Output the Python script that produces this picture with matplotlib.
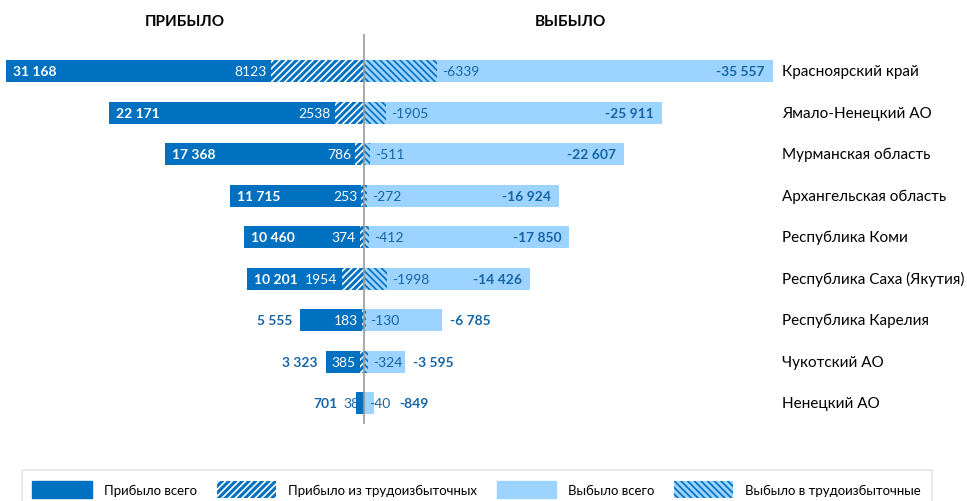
import matplotlib.pyplot as plt
from matplotlib.patches import Patch

plt.rcParams['font.family'] = ['Lato', 'DejaVu Sans']
plt.rcParams['hatch.linewidth'] = 1.2

regions = ['Красноярский край', 'Ямало-Ненецкий АО', 'Мурманская область',
           'Архангельская область', 'Республика Коми', 'Республика Саха (Якутия)',
           'Республика Карелия', 'Чукотский АО', 'Ненецкий АО']
arrived_total = [31168, 22171, 17368, 11715, 10460, 10201, 5555, 3323, 701]
arrived_surplus = [8123, 2538, 786, 253, 374, 1954, 183, 385, 38]
left_total = [35557, 25911, 22607, 16924, 17850, 14426, 6785, 3595, 849]
left_surplus = [6339, 1905, 511, 272, 412, 1998, 130, 324, 40]

dark = '#0070C0'
light = '#9DD3FF'
txt_blue = '#1565A8'
fs = 10


def fmt(v):
    return f'{v:,}'.replace(',', ' ')


def tw(s):
    # rough text width in pixels
    return 7.3 * len(s)


fig = plt.figure(figsize=(9.67, 5.02), dpi=100)
ax_w = 776
ax = fig.add_axes([0.0, 0.153, ax_w / 967, 0.777])
xmin, xmax = -31700, 35557 + 300
k = ax_w / (xmax - xmin)  # pixels per unit

y = list(range(len(regions)))
h = 0.53
ax.barh(y, [-v for v in arrived_total], height=h, color=dark, linewidth=0)
ax.barh(y, [-v for v in arrived_surplus], height=h, color=dark,
        edgecolor='white', hatch='/////', linewidth=0)
ax.barh(y, left_total, height=h, color=light, linewidth=0)
ax.barh(y, left_surplus, height=h, color=light,
        edgecolor=dark, hatch='\\\\\\\\\\', linewidth=0)


def put(x, i, dx, s, ha, color, bold=False):
    ax.annotate(s, (x, i), xytext=(dx, 0), textcoords='offset pixels',
                ha=ha, va='center', color=color, fontsize=fs,
                fontweight='bold' if bold else 'normal')


for i in y:
    # left side
    a, s = arrived_total[i], arrived_surplus[i]
    a_px, s_px = a * k, s * k
    sl, al = str(s), fmt(a)
    s_left = s_px + 4 + tw(sl)
    inside_s = s_left + 2 <= a_px
    put(-s, i, -4, sl, 'right', 'white' if inside_s else txt_blue)
    if a_px >= s_left + tw(al) + 14:
        put(-a, i, 7, al, 'left', 'white', bold=True)
    else:
        edge = max(a_px, s_left)
        put(0, i, -(edge + 8), al, 'right', txt_blue, bold=True)

    # right side
    b, s2 = left_total[i], left_surplus[i]
    b_px, s2_px = b * k, s2 * k
    sl2, bl = '-' + str(s2), '-' + fmt(b)
    s2_right = s2_px + 5 + tw(sl2)
    put(s2, i, 5, sl2, 'left', txt_blue)
    if b_px >= s2_right + tw(bl) + 14:
        put(b, i, -8, bl, 'right', txt_blue, bold=True)
    else:
        edge = max(b_px, s2_right)
        put(0, i, edge + 8, bl, 'left', txt_blue, bold=True)

    ax.annotate(regions[i], (xmax, i), xytext=(6, 0), textcoords='offset pixels',
                ha='left', va='center', color='black', fontsize=11,
                annotation_clip=False)

ax.axvline(0, color='#999999', linewidth=1.2)
ax.set_xlim(xmin, xmax)
ax.set_ylim(8.5, -0.89)
ax.axis('off')

fig.text(185/967, 1 - 22/502, 'ПРИБЫЛО', ha='center', va='center',
         fontweight='bold', fontsize=11)
fig.text(570/967, 1 - 22/502, 'ВЫБЫЛО', ha='center', va='center',
         fontweight='bold', fontsize=11)

handles = [
    Patch(facecolor=dark, edgecolor=dark, label='Прибыло всего'),
    Patch(facecolor=dark, edgecolor='white', hatch='/////', linewidth=0,
          label='Прибыло из трудоизбыточных'),
    Patch(facecolor=light, edgecolor=light, label='Выбыло всего'),
    Patch(facecolor=light, edgecolor=dark, hatch='\\\\\\\\\\', linewidth=0,
          label='Выбыло в трудоизбыточные'),
]
leg = fig.legend(handles=handles, ncol=4, loc='lower center',
                 bbox_to_anchor=(0.493, -0.015), frameon=True, fontsize=9.5,
                 handlelength=4.5, handleheight=1.6, handletextpad=0.9,
                 columnspacing=1.5, borderpad=0.8, borderaxespad=0,
                 fancybox=False)
leg.get_frame().set_edgecolor('#DDDDDD')
leg.get_frame().set_linewidth(1.2)

fig.savefig('out.png', dpi=100)
